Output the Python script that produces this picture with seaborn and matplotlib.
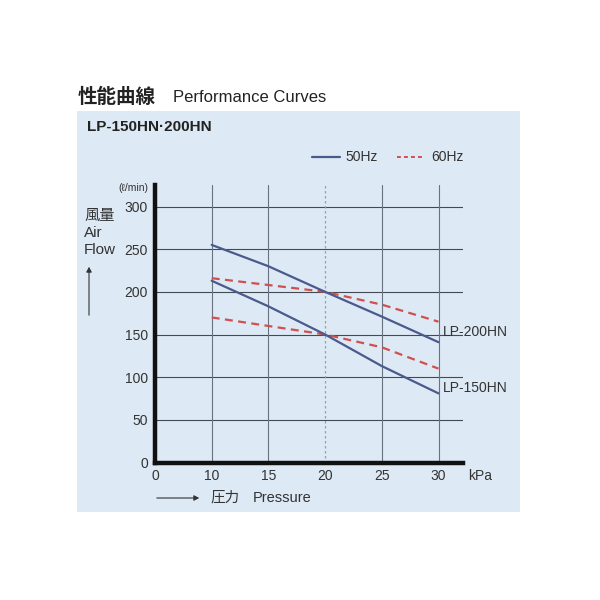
import matplotlib
matplotlib.use("Agg")
import matplotlib.pyplot as plt
import seaborn as sns
import pandas as pd
from matplotlib.patches import Rectangle
from matplotlib.lines import Line2D

sns.set_theme(style="white")
plt.rcParams['font.family'] = ['Liberation Sans', 'Noto Sans CJK JP', 'DejaVu Sans']

# ---- data ----
pressure = [10, 15, 20, 25, 30]
lp200_50 = [255, 230, 200, 171, 141]
lp200_60 = [216, 208, 200, 185, 165]
lp150_50 = [213, 183, 150, 113, 81]
lp150_60 = [170, 160, 150, 135, 110]
x_tick_labels = ["0", "10", "15", "20", "25", "30"]
y_ticks = [0, 50, 100, 150, 200, 250, 300]

c50 = "#4b5a8c"
c60 = "#d0504f"
W, H = 600, 600

def xpos(v):
    return 0 if v == 0 else (v - 5) / 5.0

fig = plt.figure(figsize=(6, 6), dpi=100)
fig.patch.set_facecolor("white")
fig.add_artist(Rectangle((77 / W, 1 - 512 / H), (520 - 77) / W, (512 - 111) / H,
                         transform=fig.transFigure, facecolor="#dde9f4",
                         edgecolor="none", zorder=0))

x0, x1 = 155, 463
y0, ytop = 462.5, 184.5
ax = fig.add_axes([x0 / W, 1 - y0 / H, (x1 - x0) / W, (y0 - ytop) / H])
ax.set_facecolor("none")
xmax = (x1 - x0) / 56.7
ymax = (y0 - ytop) / 0.8533
ax.set_xlim(0, xmax)
ax.set_ylim(0, ymax)

# grid
for yv in y_ticks[1:]:
    ax.axhline(yv, color="#444a54", lw=0.8, zorder=1)
for xv in [10, 15, 25, 30]:
    ax.axvline(xpos(xv), color="#6a7282", lw=0.8, zorder=1)
ax.axvline(xpos(20), color="#9aa0aa", lw=0.9, ls=(0, (2, 2)), zorder=1)

xp = [xpos(v) for v in pressure]
df = pd.DataFrame({"x": xp * 4,
                   "y": lp200_50 + lp200_60 + lp150_50 + lp150_60,
                   "s": ["a"] * 5 + ["b"] * 5 + ["c"] * 5 + ["d"] * 5})
for key, col, ls in [("b", c60, (0, (3.6, 2.4))), ("d", c60, (0, (3.6, 2.4))),
                     ("a", c50, "-"), ("c", c50, "-")]:
    sub = df[df.s == key]
    sns.lineplot(data=sub, x="x", y="y", ax=ax, color=col, lw=1.6,
                 linestyle=ls, zorder=3)

ax.set_xticks([xpos(v) for v in [0, 10, 15, 20, 25, 30]])
ax.set_xticklabels(x_tick_labels)
ax.set_yticks(y_ticks)
ax.set_yticklabels([str(v) for v in y_ticks])
ax.tick_params(axis="both", length=0, labelsize=10, labelcolor="#333333")
ax.tick_params(axis="x", pad=5)
ax.tick_params(axis="y", pad=5)
ax.set_xlabel("")
ax.set_ylabel("")
for s in ["top", "right"]:
    ax.spines[s].set_visible(False)
for s in ["left", "bottom"]:
    ax.spines[s].set_color("#111111")
    ax.spines[s].set_linewidth(3.2)
    ax.spines[s].set_zorder(4)

# curve labels
ax.text(xpos(30) + 0.07, 165 - 12, "LP-200HN", fontsize=10, color="#333333",
        va="center", ha="left")
ax.text(xpos(30) + 0.07, 81 + 6, "LP-150HN", fontsize=10, color="#333333",
        va="center", ha="left")

def ft(x, y, s, **kw):
    fig.text(x / W, 1 - y / H, s, **kw)

ft(78, 97, "性能曲線", fontsize=14, fontweight="bold", color="#222222",
   va="center", ha="left", family=['Noto Sans CJK JP', 'DejaVu Sans'])
ft(173, 97, "Performance Curves", fontsize=12, color="#222222", va="center", ha="left")
ft(87, 127, "LP-150HN·200HN", fontsize=11, fontweight="bold", color="#222222",
   va="center", ha="left")

# legend
fig.add_artist(Line2D([312 / W, 340 / W], [1 - 157 / H] * 2, color=c50, lw=1.6,
                      transform=fig.transFigure))
ft(345, 157, "50Hz", fontsize=10, color="#333333", va="center", ha="left")
fig.add_artist(Line2D([397 / W, 424 / W], [1 - 157 / H] * 2, color=c60, lw=1.4,
                      ls=(0, (2, 1.6)), transform=fig.transFigure))
ft(431, 157, "60Hz", fontsize=10, color="#333333", va="center", ha="left")

# y label
ft(148, 188, "(ℓ/min)", fontsize=7.5, color="#333333", va="center", ha="right")
ft(84, 215, "風量", fontsize=11, color="#333333", va="center", ha="left",
   family=['Noto Sans CJK JP', 'DejaVu Sans'])
ft(84, 233, "Air", fontsize=11, color="#333333", va="center", ha="left")
ft(84, 250, "Flow", fontsize=11, color="#333333", va="center", ha="left")
fig.add_artist(matplotlib.patches.FancyArrowPatch(
    (89 / W, 1 - 318 / H), (89 / W, 1 - 264 / H), transform=fig.transFigure,
    arrowstyle="-|>,head_length=3,head_width=1.6", color="#333333", lw=0.8))

# x label
ft(468, 476, "kPa", fontsize=10, color="#333333", va="center", ha="left")
fig.add_artist(matplotlib.patches.FancyArrowPatch(
    (154 / W, 1 - 498 / H), (202 / W, 1 - 498 / H), transform=fig.transFigure,
    arrowstyle="-|>,head_length=3,head_width=1.6", color="#333333", lw=0.8))
ft(210, 498, "圧力", fontsize=10.5, color="#333333", va="center", ha="left",
   family=['Noto Sans CJK JP', 'DejaVu Sans'])
ft(253, 498, "Pressure", fontsize=10.5, color="#333333", va="center", ha="left")

fig.savefig("out.png", dpi=100)
